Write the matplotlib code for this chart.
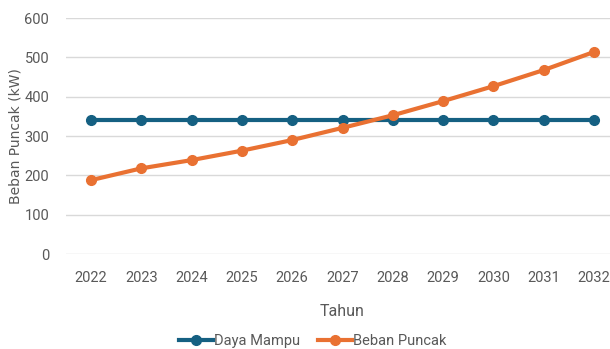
import matplotlib
matplotlib.use("Agg")
import matplotlib.pyplot as plt

years = ["2022", "2023", "2024", "2025", "2026", "2027", "2028", "2029", "2030", "2031", "2032"]
daya_mampu = [340, 340, 340, 340, 340, 340, 340, 340, 340, 340, 340]
beban_puncak = [188, 218, 239, 263, 290, 321, 353, 389, 427, 468, 514]

blue = "#156082"
orange = "#E97132"
grey_txt = "#595959"
narrow = ["Roboto", "Liberation Sans", "DejaVu Sans"]

fig = plt.figure(figsize=(6.1, 3.49), dpi=100)
ax = fig.add_axes([0.108, 0.272, 0.907, 0.676])

x = list(range(len(years)))
ax.plot(x, daya_mampu, color=blue, lw=3, marker="o", ms=7, label="Daya Mampu", zorder=3)
ax.plot(x, beban_puncak, color=orange, lw=3, marker="o", ms=7, label="Beban Puncak", zorder=3)

ax.set_xlim(-0.5, len(years) - 0.5)
ax.set_ylim(0, 600)
ax.set_yticks(range(0, 601, 100))
ax.set_xticks(x)
ax.set_xticklabels(years)
ax.grid(axis="y", color="#D9D9D9", lw=1)
ax.set_axisbelow(True)
for s in ax.spines.values():
    s.set_visible(False)
ax.tick_params(axis="both", length=0, colors=grey_txt, labelsize=10.5)
ax.tick_params(axis="x", pad=12)
ax.tick_params(axis="y", pad=12)
for lbl in ax.get_xticklabels() + ax.get_yticklabels():
    lbl.set_family(narrow)

ax.set_xlabel("Tahun", color=grey_txt, fontsize=11.5, family=narrow, labelpad=14)
ax.set_ylabel("Beban Puncak (kW)", color=grey_txt, fontsize=10, family="DejaVu Sans")
ax.yaxis.set_label_coords(-0.078, 0.5)

leg = fig.legend(loc="center", bbox_to_anchor=(0.513, 0.022), ncol=2, frameon=False,
                 prop={"family": narrow, "size": 10.5}, handlelength=2.3, columnspacing=1.2,
                 handletextpad=0.1)
for t in leg.get_texts():
    t.set_color(grey_txt)

fig.savefig("out.png", dpi=100)
